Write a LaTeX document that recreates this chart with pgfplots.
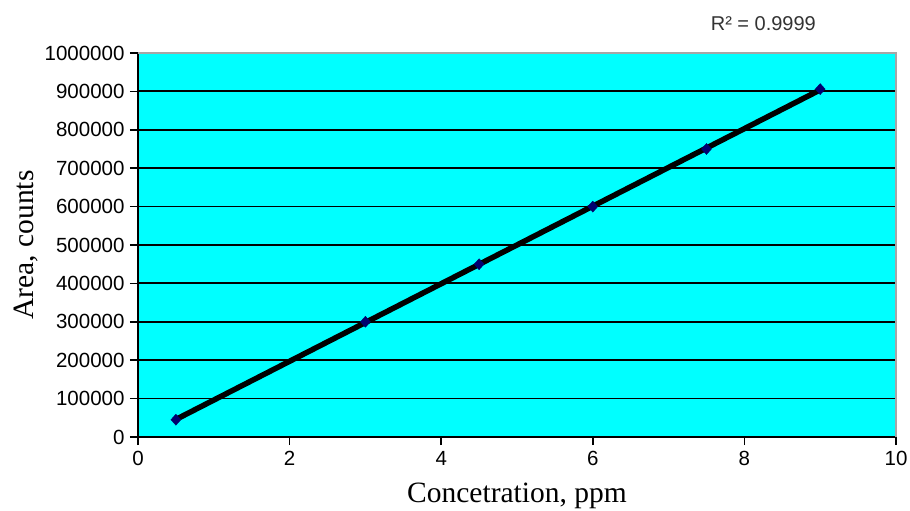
\documentclass[border=0pt]{standalone}
\usepackage{pgfplots}
\pgfplotsset{compat=1.18}
\usepackage{fontspec}
\setmainfont{Liberation Serif}
\newfontfamily\arial{Liberation Sans}
\usetikzlibrary{calc}
\definecolor{bgcyan}{RGB}{0,255,255}
\definecolor{mk}{RGB}{0,0,110}
\begin{document}
\begin{tikzpicture}
\begin{axis}[
  name=ax,
  scale only axis, width=758pt, height=384pt,
  xmin=0, xmax=10, ymin=0, ymax=1000000,
  xtick={0,2,4,6,8,10},
  ytick={0,100000,200000,300000,400000,500000,600000,700000,800000,900000,1000000},
  scaled y ticks=false, scaled x ticks=false,
  /pgf/number format/.cd, fixed, 1000 sep={}, assume math mode=true, /pgfplots/.cd,
  tick label style={font=\arial\fontsize{20.5}{24}\selectfont, text=black},
  xticklabel style={yshift=-3pt},
  yticklabel style={xshift=-2pt},
  axis background/.style={fill=bgcyan},
  axis x line*=bottom, axis y line*=left,
  axis line style={black, line width=1.6pt, -},
  tick align=outside, tick pos=left,
  major tick length=8pt,
  every tick/.style={black, line width=1.6pt},
  ymajorgrids, major grid style={black, line width=1.8pt},
  xlabel={\fontsize{29.5}{34}\selectfont Concetration, ppm},
  ylabel={\fontsize{29.5}{34}\selectfont Area, counts},
  xlabel style={at={(rel axis cs:0.5,0)}, anchor=north, yshift=-42pt},
  ylabel style={at={(rel axis cs:0,0.5)}, anchor=south, yshift=96pt},
  clip=false,
]
\draw[gray!70, line width=1.3pt] (rel axis cs:0,1) -- (rel axis cs:1,1) -- (rel axis cs:1,0);
\addplot[black, line width=5.5pt, no marks] coordinates {(0.5,45700) (9,904000)};
\addplot[only marks, mark=diamond*, mark size=5.5pt, mark options={fill=mk, draw=mk, xscale=1.2}] coordinates {
 (0.5,45000) (3,300000) (4.5,450000) (6,600000) (7.5,750000) (9,906000)};
\node[font=\arial\fontsize{20}{24}\selectfont, text=black!80] at ($(rel axis cs:0.825,1)+(0,29pt)$) {R² = 0.9999};
\end{axis}
\pgfresetboundingbox
\path ($(ax.south west)+(-138pt,-74pt)$) rectangle ($(ax.south west)+(772pt,437pt)$);
\end{tikzpicture}
\end{document}
